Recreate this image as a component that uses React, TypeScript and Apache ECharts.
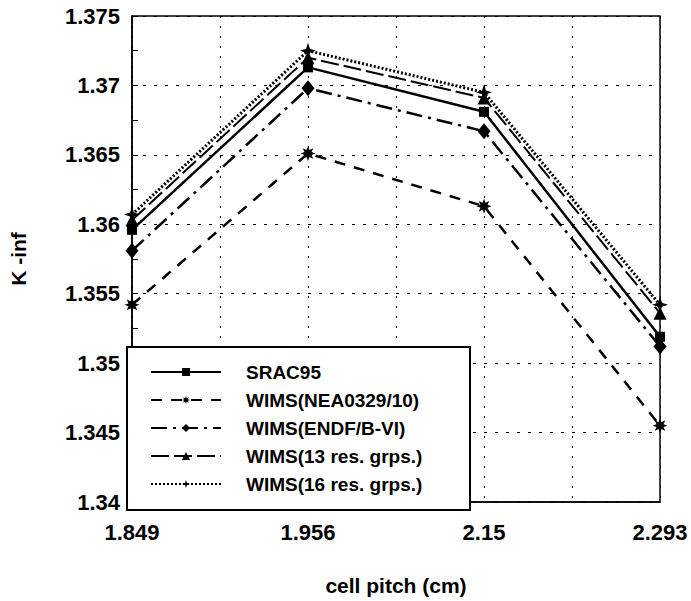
import React, { useEffect, useRef } from "react";
import * as echarts from "echarts";

const categories = ["1.849", "1.956", "2.15", "2.293"];
const seriesNames = [
  "SRAC95",
  "WIMS(NEA0329/10)",
  "WIMS(ENDF/B-VI)",
  "WIMS(13 res. grps.)",
  "WIMS(16 res. grps.)",
];
const srac95 = [1.3596, 1.3713, 1.3681, 1.3519];
const nea0329 = [1.3542, 1.3651, 1.3613, 1.3455];
const endf = [1.3581, 1.3698, 1.3667, 1.3512];
const res13 = [1.3603, 1.372, 1.3691, 1.3536];
const res16 = [1.3607, 1.3725, 1.3695, 1.3542];
const yTicks = { min: 1.34, max: 1.375, interval: 0.005 };

function starPath(points: number, inner: number): string {
  const parts: string[] = [];
  const total = points * 2;
  for (let i = 0; i < total; i++) {
    const r = i % 2 === 0 ? 10 : 10 * inner;
    const a = (Math.PI * 2 * i) / total - Math.PI / 2;
    const x = (10 + r * Math.cos(a)).toFixed(2);
    const y = (10 + r * Math.sin(a)).toFixed(2);
    parts.push((i === 0 ? "M" : "L") + x + "," + y);
  }
  return "path://" + parts.join("") + "Z";
}

const FONT = "'Liberation Sans', Arial, sans-serif";

export default function App() {
  const ref = useRef<HTMLDivElement>(null);
  useEffect(() => {
    document.body.style.margin = "0";
    if (!ref.current) return;
    const chart = echarts.init(ref.current, null, { renderer: "svg" });
    const toPts = (arr: number[]) => arr.map((v, i) => [i, v]);
    const base = (name: string, data: number[], symbol: string, size: number | number[], type: any, width: number) => ({
      name,
      type: "line",
      data: toPts(data),
      symbol,
      symbolSize: size,
      itemStyle: { color: "#000" },
      lineStyle: { color: "#000", width, type },
      z: 5,
    });
    chart.setOption({
      animation: false,
      backgroundColor: "#fff",
      grid: {
        left: 127,
        right: 31,
        top: 16,
        bottom: 91,
        show: true,
        borderColor: "#000",
        borderWidth: 1.5,
      },
      xAxis: {
        type: "value",
        min: 0,
        max: 3,
        interval: 0.5,
        name: "cell pitch (cm)",
        nameLocation: "middle",
        nameGap: 73,
        nameTextStyle: { fontFamily: FONT, fontWeight: "bold", fontSize: 21, color: "#000" },
        axisLine: { lineStyle: { color: "#000", width: 1.5 } },
        axisTick: { show: false },
        axisLabel: {
          margin: 19,
          fontFamily: FONT,
          fontWeight: "bold",
          fontSize: 22,
          color: "#000",
          showMinLabel: true,
          showMaxLabel: true,
          formatter: (v: number) => (Number.isInteger(v) ? categories[v] : ""),
        },
        splitLine: { show: true, lineStyle: { color: "#000", type: [2, 8], width: 1 } },
      },
      yAxis: {
        type: "value",
        min: yTicks.min,
        max: yTicks.max,
        interval: yTicks.interval,
        name: "K -inf",
        nameLocation: "middle",
        nameGap: 103,
        nameTextStyle: { fontFamily: FONT, fontWeight: "bold", fontSize: 21, color: "#000" },
        axisLine: { show: true, lineStyle: { color: "#000", width: 1.5 } },
        axisTick: { show: true, inside: true, length: 6, lineStyle: { color: "#000" } },
        minorTick: { show: true, splitNumber: 2, length: 6, lineStyle: { color: "#000" } },
        axisLabel: {
          margin: 12,
          fontFamily: FONT,
          fontWeight: "bold",
          fontSize: 22,
          color: "#000",
        },
        splitLine: { show: true, lineStyle: { color: "#000", type: [3, 8], width: 1 } },
      },
      legend: {
        orient: "vertical",
        left: 150,
        top: 362,
        padding: 0,
        itemWidth: 70,
        itemHeight: 10,
        itemGap: 8,
        z: 6,
        textStyle: {
          fontFamily: FONT,
          fontWeight: "bold",
          fontSize: 19,
          lineHeight: 20,
          color: "#000",
          padding: [0, 0, 0, 20],
        },
        data: seriesNames,
      },
      graphic: [
        {
          type: "rect",
          z: 4,
          shape: { x: 127, y: 347, width: 343, height: 163 },
          style: { fill: "#fff", stroke: "#000", lineWidth: 2 },
        },
      ],
      series: [
        base(seriesNames[0], srac95, "rect", 10, "solid", 2.5),
        base(seriesNames[1], nea0329, starPath(8, 0.5), 15, [11, 9], 2.5),
        base(seriesNames[2], endf, "diamond", [13, 16], [16, 6, 3, 6], 2.5),
        base(seriesNames[3], res13, "triangle", 13, [18, 5], 2),
        base(seriesNames[4], res16, starPath(4, 0.35), 16, [2, 2], 3),
      ],
    });
    return () => chart.dispose();
  }, []);
  return <div ref={ref} style={{ width: 691, height: 601 }} />;
}
